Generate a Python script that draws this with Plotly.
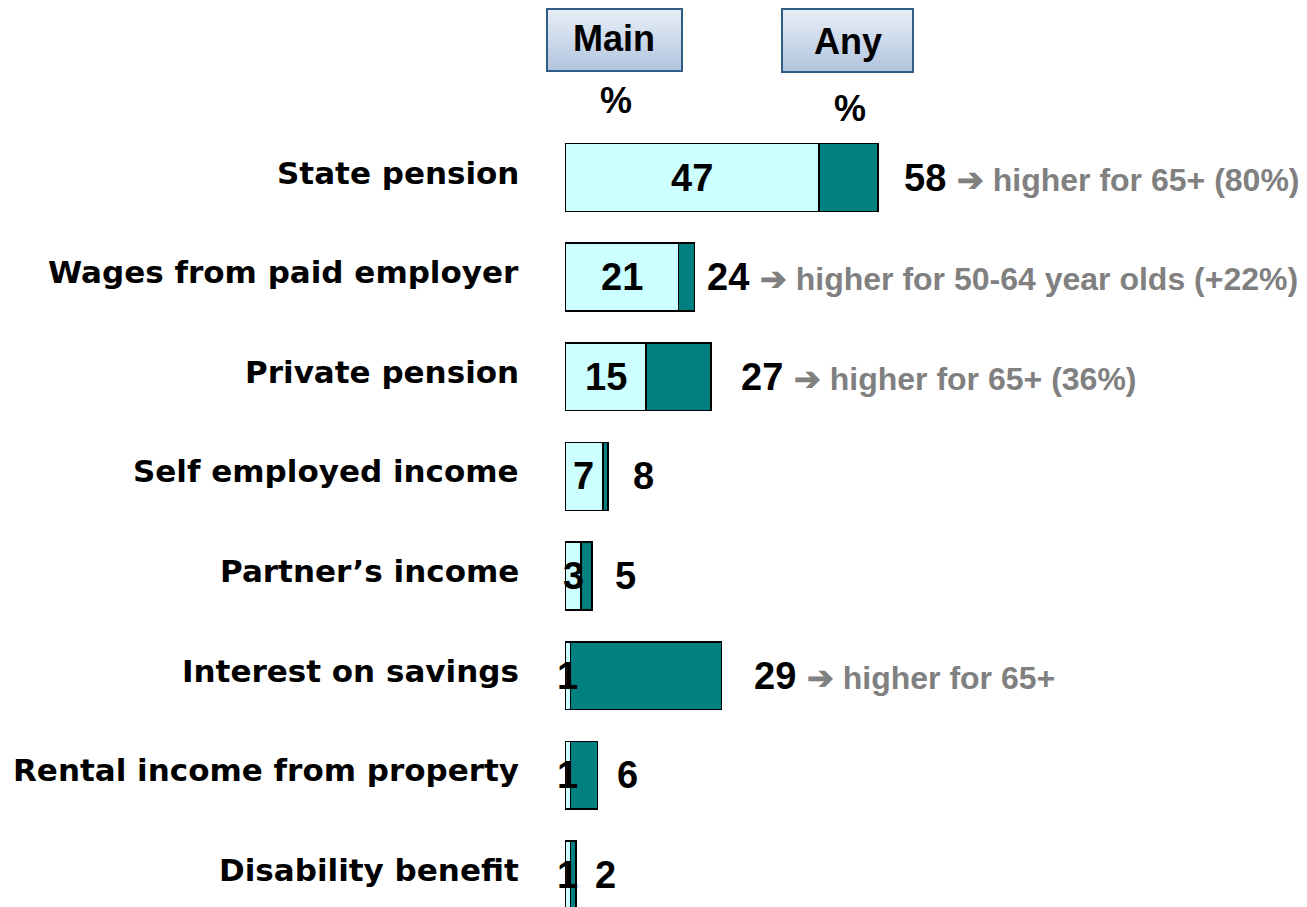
import plotly.graph_objects as go

# ---------------- data ----------------
categories = ["State pension", "Wages from paid employer", "Private pension",
              "Self employed income", "Partner\u2019s income", "Interest on savings",
              "Rental income from property", "Disability benefit"]
main_pct = [47, 21, 15, 7, 3, 1, 1, 1]
any_pct = [58, 24, 27, 8, 5, 29, 6, 2]
notes = ["higher for 65+ (80%)", "higher for 50-64 year olds (+22%)",
         "higher for 65+ (36%)", "", "", "higher for 65+", "", ""]
headers = ["Main", "Any"]
unit_label = "%"

# ---------------- layout geometry (page pixels) ----------------
PAGE_OFF = 8        # default body margin of the html page
W, H = 1307 - PAGE_OFF, 907 - PAGE_OFF
X0 = 565 - PAGE_OFF            # figure pixel of value 0
PX_PER_UNIT = 5.4
ROW0 = 177.5 - PAGE_OFF        # figure pixel centre of first row
ROW_STEP = 99.64
BAR_W = 0.68
gap_px = [24, 10, 28, 23, 21, 30, 18, 17]   # gap between bar end and total label

LIGHT = "#CCFFFF"
TEAL = "#008080"
GREY = "#808080"
ARIAL = "Arial, Liberation Sans, sans-serif"
LABEL_FONT = "DejaVu Sans, Arial, sans-serif"

def px_to_paper_x(px):      # px given in page pixels
    return (px - PAGE_OFF - X0) / (W - X0)

def px_to_paper_y(py):
    return 1 - (py - PAGE_OFF) / H

rows = list(range(len(categories)))
rest = [a - m for a, m in zip(any_pct, main_pct)]

fig = go.Figure()
fig.add_trace(go.Bar(y=rows, x=main_pct, orientation="h", width=BAR_W,
                     marker=dict(color=LIGHT, line=dict(color="black", width=1.6)),
                     hoverinfo="skip", showlegend=False))
fig.add_trace(go.Bar(y=rows, x=rest, orientation="h", width=BAR_W,
                     marker=dict(color=TEAL, line=dict(color="black", width=1.6)),
                     hoverinfo="skip", showlegend=False))

annotations = []
for i, cat in enumerate(categories):
    # category label
    annotations.append(dict(x=px_to_paper_x(521), xref="paper", y=i, yref="y",
                            text="<b>%s</b>" % cat, showarrow=False,
                            xanchor="right", yanchor="middle", yshift=5,
                            font=dict(family=LABEL_FONT, size=31, color="black")))
    # main value inside bar
    annotations.append(dict(x=main_pct[i] / 2, xref="x", y=i, yref="y",
                            text="<b>%d</b>" % main_pct[i], showarrow=False,
                            xanchor="center", yanchor="middle",
                            font=dict(family=ARIAL, size=38, color="black")))
    # total value + note
    txt = "<b>%d</b>" % any_pct[i]
    if notes[i]:
        txt += (" <span style='color:%s;font-size:32px'><b>\u2794 %s</b></span>"
                % (GREY, notes[i]))
    annotations.append(dict(x=any_pct[i], xref="x", y=i, yref="y",
                            text=txt, showarrow=False, xanchor="left", yanchor="middle",
                            xshift=gap_px[i],
                            font=dict(family=ARIAL, size=38, color="black")))

# headers (page pixels)
header_boxes = [(547, 682, 8, 71), (782, 913, 8, 72)]
header_text_pos = [(614, 39), (848, 42)]
pct_pos = [(616, 101), (850, 108)]
shapes = []
N = 30
top_rgb = (233, 239, 247)
bot_rgb = (176, 196, 222)
for (x0, x1, y0, y1), h, (tx, ty), (px, py) in zip(header_boxes, headers,
                                                    header_text_pos, pct_pos):
    for k in range(N):
        f = (k + 0.5) / N
        c = tuple(int(round(t + (b - t) * f)) for t, b in zip(top_rgb, bot_rgb))
        ya = y0 + (y1 - y0) * k / N
        yb = y0 + (y1 - y0) * (k + 1) / N + 0.6
        shapes.append(dict(type="rect", xref="paper", yref="paper",
                           x0=px_to_paper_x(x0), x1=px_to_paper_x(x1),
                           y0=px_to_paper_y(ya), y1=px_to_paper_y(min(yb, y1)),
                           fillcolor="rgb(%d,%d,%d)" % c, line=dict(width=0),
                           layer="above"))
    shapes.append(dict(type="rect", xref="paper", yref="paper",
                       x0=px_to_paper_x(x0), x1=px_to_paper_x(x1),
                       y0=px_to_paper_y(y0 + 1), y1=px_to_paper_y(y1),
                       fillcolor="rgba(0,0,0,0)",
                       line=dict(color="#2F5D85", width=2), layer="above"))
    annotations.append(dict(x=px_to_paper_x(tx), xref="paper", y=px_to_paper_y(ty),
                            yref="paper", text="<b>%s</b>" % h, showarrow=False,
                            xanchor="center", yanchor="middle",
                            font=dict(family=ARIAL, size=36, color="black")))
    annotations.append(dict(x=px_to_paper_x(px), xref="paper", y=px_to_paper_y(py),
                            yref="paper", text="<b>%s</b>" % unit_label, showarrow=False,
                            xanchor="center", yanchor="middle",
                            font=dict(family=ARIAL, size=36, color="black")))

fig.update_layout(
    width=W, height=H,
    margin=dict(l=X0, r=0, t=0, b=0),
    barmode="stack",
    plot_bgcolor="white", paper_bgcolor="white",
    xaxis=dict(range=[0, (W - X0) / PX_PER_UNIT], visible=False, fixedrange=True),
    yaxis=dict(range=[(H - ROW0) / ROW_STEP, -ROW0 / ROW_STEP], visible=False,
               fixedrange=True),
    annotations=annotations,
    shapes=shapes,
    font=dict(family=ARIAL),
)

fig.write_html("out.html", config={"displayModeBar": False})
